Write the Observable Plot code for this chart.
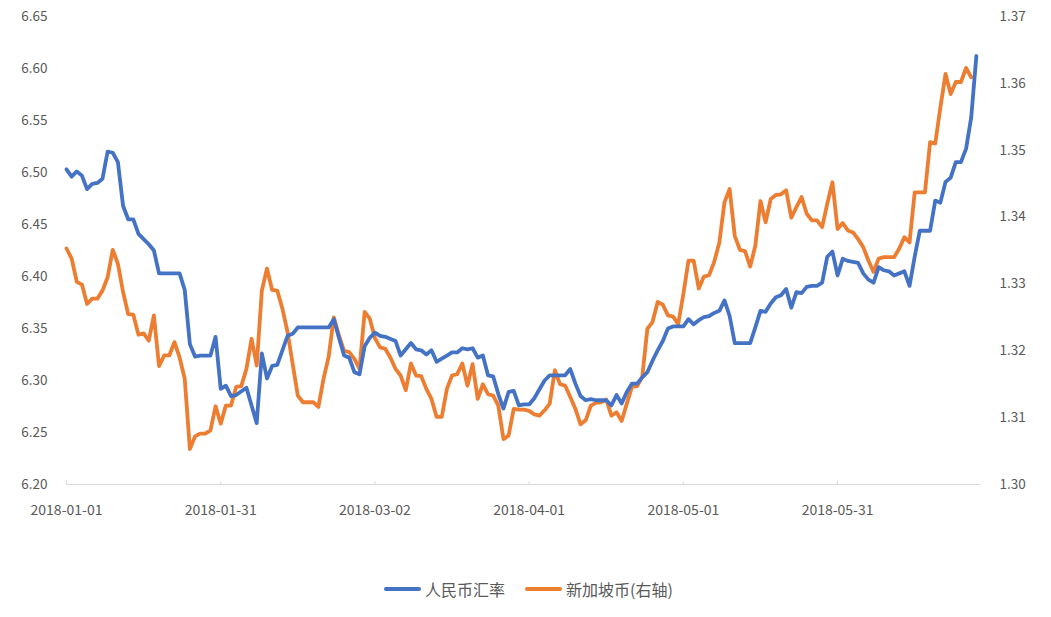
<!DOCTYPE html>
<html>
<head>
<meta charset="utf-8">
<script src="https://cdn.jsdelivr.net/npm/d3@7"></script>
<script src="https://cdn.jsdelivr.net/npm/@observablehq/plot@0.6"></script>
<style>
  html, body { margin: 0; padding: 0; background: #ffffff; }
  #chart { width: 1051px; }
  .legend { display: flex; justify-content: center; align-items: center; margin-top: 38px; font-family: "Noto Sans CJK SC", "Noto Sans", sans-serif; font-size: 16px; color: #595959; line-height: 22px; padding-left: 6px; }
  .legend .item { display: flex; align-items: center; margin: 0 10px; }
  .legend .sw { width: 37px; height: 4px; border-radius: 2px; margin-right: 4px; }
</style>
</head>
<body>
<div id="chart"></div>
<script>
// ---- data (day offset from 2018-01-01, value) ----
const cnyDay = [0,1,2,3,4,5,6,7,8,9,10,11,12,13,14,15,16,17,18,22,23,24,25,26,28,29,30,31,32,33,35,37,38,39,40,41,42,43,44,45,51,52,53,54,55,56,57,58,59,60,61,62,64,65,66,67,68,69,70,71,72,73,74,75,76,77,78,79,80,81,82,83,84,85,86,87,88,89,90,91,93,94,95,97,98,99,100,101,102,103,105,106,107,108,109,110,111,112,113,114,115,116,117,118,120,121,122,123,124,125,126,127,128,129,130,133,134,135,136,137,138,139,140,141,142,143,144,145,146,147,148,149,150,151,152,153,154,155,156,157,158,159,160,161,162,163,164,165,166,168,169,170,171,172,173,174,175,176,177];
const cnyRate = [6.503,6.496,6.501,6.497,6.484,6.489,6.490,6.494,6.520,6.519,6.510,6.468,6.455,6.455,6.441,6.436,6.431,6.425,6.403,
  6.403,6.387,6.335,6.323,6.324,
  6.324,6.342,6.292,6.295,6.285,6.286,
  6.293,6.259,
  6.326,6.302,6.314,6.315,6.329,6.343,6.345,6.351,
  6.351,6.359,6.341,6.324,6.322,6.308,6.306,6.333,6.341,6.346,6.343,6.342,
  6.338,6.324,6.330,6.336,6.330,6.329,6.325,6.329,6.318,6.321,6.324,6.327,6.327,6.331,6.330,6.331,6.322,6.324,6.305,6.304,6.287,6.273,6.289,6.290,6.276,6.277,6.277,6.283,
  6.300,6.305,6.305,
  6.305,6.311,6.297,6.285,6.281,6.282,6.281,
  6.281,6.276,6.286,6.278,6.289,6.297,6.297,6.303,6.308,6.319,6.329,6.338,6.350,6.352,
  6.352,6.359,6.354,6.358,6.361,6.362,6.365,6.367,6.377,6.362,6.336,
  6.336,6.351,6.367,6.366,6.374,6.380,6.382,6.388,6.370,6.385,6.384,6.390,6.391,6.391,6.394,6.419,6.424,6.401,6.417,6.415,6.414,6.413,6.403,6.397,6.394,6.409,6.406,6.405,6.401,6.403,6.405,6.391,6.419,6.444,
  6.444,6.473,6.471,6.491,6.495,6.510,6.510,6.523,6.553,6.612];

const sgdDay = [0,1,2,3,4,5,6,7,8,9,10,11,12,13,14,15,16,17,18,19,20,21,22,23,24,25,26,27,28,29,30,31,32,33,34,35,36,37,38,39,40,41,42,43,44,45,46,47,48,49,50,51,52,53,54,55,56,57,58,59,60,61,62,63,64,65,66,67,68,69,70,71,72,73,74,75,76,77,78,79,80,81,82,83,84,85,86,87,88,89,90,91,92,93,94,95,96,97,98,99,100,101,102,103,104,105,106,107,108,109,110,111,112,113,114,115,116,117,118,119,120,121,122,123,124,125,126,127,128,129,130,131,132,133,134,135,136,137,138,139,140,141,142,143,144,145,146,147,148,149,150,151,152,153,154,155,156,157,158,159,160,161,162,163,164,165,167,168,169,170,171,172,173,174,175,176];
const sgdRate = [1.3353,1.3338,1.3303,1.3299,1.3270,1.3278,1.3278,1.3290,1.3310,1.3351,
  1.3330,1.3288,1.3255,1.3254,1.3224,1.3226,1.3215,1.3253,1.3177,1.3193,
  1.3193,1.3213,1.3190,1.3158,1.3053,1.3072,1.3076,1.3076,1.3081,1.3117,
  1.3091,1.3118,1.3118,1.3146,1.3147,1.3173,1.3218,1.3178,1.3290,1.3323,
  1.3291,1.3290,1.3263,1.3228,1.3180,1.3133,1.3123,1.3123,1.3123,1.3116,
  1.3158,1.3191,1.3250,1.3223,1.3200,1.3198,1.3188,1.3173,1.3258,1.3248,
  1.3219,1.3205,1.3203,1.3190,1.3173,1.3163,1.3141,1.3181,1.3163,1.3162,
  1.3143,1.3128,1.3101,1.3101,1.3143,1.3163,1.3165,1.3181,1.3148,1.3180,
  1.3128,1.3150,1.3135,1.3133,1.3118,1.3068,1.3073,1.3113,1.3112,1.3112,
  1.3110,1.3105,1.3103,1.3111,1.3121,1.3171,1.3150,1.3148,1.3131,1.3113,
  1.3090,1.3096,1.3118,1.3122,1.3123,1.3127,1.3103,1.3108,1.3095,1.3121,
  1.3146,1.3147,1.3161,1.3233,1.3243,1.3273,1.3269,1.3253,1.3251,1.3240,
  1.3285,1.3335,1.3335,1.3293,1.3311,1.3313,1.3333,1.3362,1.3422,1.3442,
  1.3372,1.3351,1.3349,1.3326,1.3357,1.3424,1.3392,1.3427,1.3433,1.3434,
  1.3440,1.3399,1.3415,1.3430,1.3405,1.3395,1.3395,1.3385,1.3420,1.3452,
  1.3382,1.3391,1.3380,1.3377,1.3367,1.3355,1.3335,1.3318,1.3338,1.3340,
  1.3340,1.3340,1.3353,1.3370,1.3362,1.3437,1.3437,1.3512,1.3510,1.3564,
  1.3614,1.3584,1.3602,1.3602,1.3623,1.3609];

const xTickLabels = ["2018-01-01","2018-01-31","2018-03-02","2018-04-01","2018-05-01","2018-05-31"];
const leftTicks = [6.20,6.25,6.30,6.35,6.40,6.45,6.50,6.55,6.60,6.65];
const rightTicks = [1.30,1.31,1.32,1.33,1.34,1.35,1.36,1.37];
const seriesNames = ["人民币汇率","新加坡币(右轴)"];
const seriesColors = ["#4472C4","#ED7D31"];

// ---- helpers ----
const base = Date.UTC(2018,0,1);
const dayToDate = d => new Date(base + d*86400000);
const L0 = 6.20, L1 = 6.65, R0 = 1.30, R1 = 1.37;
const toLeft = v => L0 + (v - R0) * (L1 - L0) / (R1 - R0);
const fromLeft = v => R0 + (v - L0) * (R1 - R0) / (L1 - L0);

const cny = cnyDay.map((d,i) => ({date: dayToDate(d), value: cnyRate[i]}));
const sgd = sgdDay.map((d,i) => ({date: dayToDate(d), value: toLeft(sgdRate[i])}));
const xTicks = xTickLabels.map(s => new Date(s + "T00:00:00Z"));

const chart = Plot.plot({
  width: 1051,
  height: 540,
  marginLeft: 66,
  marginRight: 70,
  marginTop: 16,
  marginBottom: 56,
  style: {fontFamily: "'Noto Sans CJK SC', 'Noto Sans', sans-serif", fontSize: "13.5px", color: "#595959", background: "#ffffff"},
  x: {type: "utc", domain: [dayToDate(0), dayToDate(178)]},
  y: {domain: [L0, L1]},
  marks: [
    Plot.ruleY([L0], {stroke: "#d9d9d9", strokeWidth: 1}),
    Plot.axisX(xTicks, {tickSize: 3, dy: -3, stroke: "#d9d9d9", tickFormat: () => "", label: null}),
    Plot.axisX(xTicks, {tickSize: 0, tickPadding: 21, fontSize: 14, tickFormat: d3.utcFormat("%Y-%m-%d"), label: null, fill: "#595959"}),
    Plot.axisY(leftTicks, {anchor: "left", tickSize: 0, tickPadding: 19, tickFormat: d => d.toFixed(2), label: null, fill: "#595959"}),
    Plot.axisY(rightTicks.map(toLeft), {anchor: "right", tickSize: 0, tickPadding: 18, tickFormat: v => fromLeft(v).toFixed(2), label: null, fill: "#595959"}),
    Plot.line(sgd, {x: "date", y: "value", stroke: seriesColors[1], strokeWidth: 3.8, strokeLinejoin: "round", strokeLinecap: "round"}),
    Plot.line(cny, {x: "date", y: "value", stroke: seriesColors[0], strokeWidth: 3.8, strokeLinejoin: "round", strokeLinecap: "round"})
  ]
});
const root = document.getElementById("chart");
root.appendChild(chart);

const legend = document.createElement("div");
legend.className = "legend";
seriesNames.forEach((name, i) => {
  const item = document.createElement("div");
  item.className = "item";
  const sw = document.createElement("span");
  sw.className = "sw";
  sw.style.background = seriesColors[i];
  const label = document.createElement("span");
  label.textContent = name;
  item.appendChild(sw);
  item.appendChild(label);
  legend.appendChild(item);
});
root.appendChild(legend);
</script>
</body>
</html>
